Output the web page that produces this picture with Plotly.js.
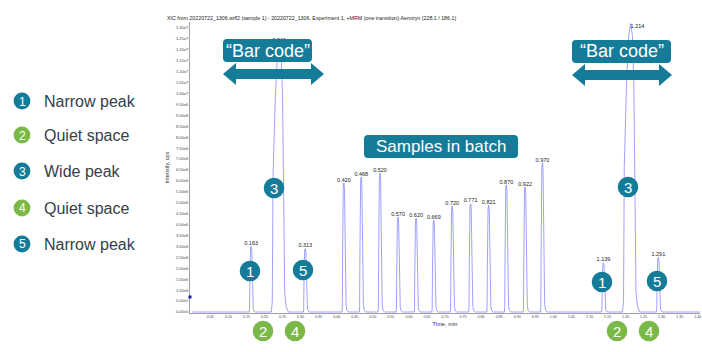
<!DOCTYPE html>
<html>
<head>
<meta charset="utf-8">
<script src="https://cdn.plot.ly/plotly-3.0.1.min.js"></script>
<style>html,body{margin:0;padding:0;background:#fff;}#chart{width:702px;height:352px;}</style>
</head>
<body>
<div id="chart"></div>
<script>
// ---- data ----
const peakTimes   = [0.163, 0.241, 0.313, 0.420, 0.468, 0.520, 0.570, 0.620, 0.669, 0.720, 0.771, 0.821, 0.870, 0.922, 0.970, 1.139, 1.214, 1.291];
const peakHeights = [3.0e6, 1.23e7, 2.9e6, 5.9e6, 6.18e6, 6.36e6, 4.35e6, 4.3e6, 4.2e6, 4.85e6, 4.95e6, 4.88e6, 5.81e6, 5.72e6, 6.82e6, 2.25e6, 1.32e7, 2.5e6];
const peakKinds   = ['narrow','wide','narrow','narrow','narrow','narrow','narrow','narrow','narrow','narrow','narrow','narrow','narrow','narrow','narrow','narrow','wide','narrow'];
const timeStart = 0.0, timeEnd = 1.41;

const yTickVals = [0,5e5,1e6,1.5e6,2e6,2.5e6,3e6,3.5e6,4e6,4.5e6,5e6,5.5e6,6e6,6.5e6,7e6,7.5e6,8e6,8.5e6,9e6,9.5e6,1e7,1.05e7,1.1e7,1.15e7,1.2e7,1.25e7,1.3e7];
const xTickVals = [0.05,0.10,0.15,0.20,0.25,0.30,0.35,0.40,0.45,0.50,0.55,0.60,0.65,0.70,0.75,0.80,0.85,0.90,0.95,1.00,1.05,1.10,1.15,1.20,1.25,1.30,1.35,1.40];

const legendNums  = ['1','2','3','4','5'];
const legendTexts = ['Narrow peak','Quiet space','Wide peak','Quiet space','Narrow peak'];

// ---- peak shape profiles (style: offset in min, fraction of apex) ----
const profiles = {
  narrow: {dt:[-0.0055,-0.0045,-0.0038,-0.003,-0.0018,0,0.0016,0.0028,0.0036,0.0045,0.006,0.0085,0.0125],
           rel:[0,0.04,0.4,0.8,0.97,1,0.95,0.7,0.35,0.14,0.05,0.012,0]},
  wide:   {dt:[-0.022,-0.0195,-0.0185,-0.0175,-0.011,-0.005,0,0.005,0.009,0.0115,0.013,0.015,0.019,0.025],
           rel:[0,0.04,0.25,0.5,0.8,0.96,1,0.96,0.8,0.5,0.25,0.07,0.02,0]}
};

const xs = [timeStart], ys = [0];
peakTimes.forEach((t,i)=>{
  const p = profiles[peakKinds[i]];
  p.dt.forEach((d,j)=>{ xs.push(t+d); ys.push(peakHeights[i]*p.rel[j]); });
});
xs.push(timeEnd); ys.push(0);

const fmtY = v => v.toExponential(2).replace('+','');
const FONT = 'Liberation Sans, Arial, sans-serif';
const TEAL = '#147c99', GREEN = '#7ab947';

// ---- layout geometry (pixels) ----
const L = 190, R = 2, T = 22, B = 39, W = 702, H = 352;
const PW = W - L - R, PH = H - T - B;
const px = x => (x - L) / PW;
const py = y => (H - B - y) / PH;

const shapes = [], annotations = [];
function circle(cx, cy, r, color, label, fs){
  shapes.push({type:'circle', xref:'paper', yref:'paper', x0:px(cx-r), x1:px(cx+r), y0:py(cy+r), y1:py(cy-r),
               fillcolor:color, line:{width:0}, layer:'above'});
  annotations.push({xref:'paper', yref:'paper', x:px(cx), y:py(cy+0.5), text:label, showarrow:false,
               xanchor:'center', yanchor:'middle', font:{family:FONT, size:fs, color:'#fff'}});
}
function rrect(x0,y0,x1,y1,r,color){
  const P = (x,y)=>px(x)+','+py(y);
  const path = 'M'+P(x0+r,y0)+' L'+P(x1-r,y0)+' Q'+P(x1,y0)+' '+P(x1,y0+r)+' L'+P(x1,y1-r)+' Q'+P(x1,y1)+' '+P(x1-r,y1)+
               ' L'+P(x0+r,y1)+' Q'+P(x0,y1)+' '+P(x0,y1-r)+' L'+P(x0,y0+r)+' Q'+P(x0,y0)+' '+P(x0+r,y0)+' Z';
  shapes.push({type:'path', xref:'paper', yref:'paper', path:path, fillcolor:color, line:{width:0}, layer:'above'});
}
function dblArrow(x0,x1,cy,hl,bh,hh,color){
  const P = (x,y)=>px(x)+','+py(y);
  const path = 'M'+P(x0,cy)+' L'+P(x0+hl,cy-hh)+' L'+P(x0+hl,cy-bh)+' L'+P(x1-hl,cy-bh)+' L'+P(x1-hl,cy-hh)+' L'+P(x1,cy)+
               ' L'+P(x1-hl,cy+hh)+' L'+P(x1-hl,cy+bh)+' L'+P(x0+hl,cy+bh)+' L'+P(x0+hl,cy+hh)+' Z';
  shapes.push({type:'path', xref:'paper', yref:'paper', path:path, fillcolor:color, line:{width:0}, layer:'above'});
}
function boxText(cx, cy, text, fs){
  annotations.push({xref:'paper', yref:'paper', x:px(cx), y:py(cy), text:text, showarrow:false,
    xanchor:'center', yanchor:'middle', font:{family:FONT, size:fs, color:'#fff'}});
}

// bar code boxes and arrows
rrect(223,39,312,62,4,TEAL); boxText(267.5,50.5,'\u201CBar code\u201D',18);
dblArrow(223,324,74,13,5,11,TEAL);
rrect(572,40,671,63,4,TEAL); boxText(621.5,51.5,'\u201CBar code\u201D',18);
dblArrow(572,672,75,13,5,11,TEAL);
// samples box
rrect(364,135,518,158,4,TEAL); boxText(441,146.5,'Samples in batch',17);

// numbered circles on chart
circle(250,271,10.3,TEAL,'1',15);
circle(274,188,10.3,TEAL,'3',15);
circle(303,270,10.3,TEAL,'5',15);
circle(263,331,10.3,GREEN,'2',15);
circle(295,331,10.3,GREEN,'4',15);
circle(602,282,10.3,TEAL,'1',15);
circle(628,187,10.3,TEAL,'3',15);
circle(657,281,10.3,TEAL,'5',15);
circle(617,331,10.3,GREEN,'2',15);
circle(649,331,10.3,GREEN,'4',15);

// left legend
const legendY = [101,135,171,208,244];
legendNums.forEach((n,i)=>{
  const c = (n==='2'||n==='4') ? GREEN : TEAL;
  circle(22, legendY[i], 8.4, c, n, 12);
  annotations.push({xref:'paper', yref:'paper', x:px(42), y:py(legendY[i]+0.5), text:legendTexts[i], showarrow:false,
    xanchor:'left', yanchor:'middle', font:{family:FONT, size:16, color:'#34404a'}});
});

// chart title as a positioned annotation
annotations.push({xref:'paper', yref:'paper', x:px(165), y:py(18), xanchor:'left', yanchor:'middle', showarrow:false,
  text:'XIC from 20220722_1306.wiff2 (sample 1) - 20220722_1306, Experiment 1, +MRM (one transition):Aemtryn (228.1 / 186.1)',
  font:{family:FONT, size:5.3, color:'#222'}});

// small marker on y axis
shapes.push({type:'rect', xref:'paper', yref:'paper', x0:px(188.5), x1:px(191.5), y0:py(298.5), y1:py(295.5),
  fillcolor:'#1a1aa0', line:{width:0}, layer:'above'});

const traces = [
  {x:xs, y:ys, type:'scatter', mode:'lines', line:{color:'rgba(110,110,255,0.65)', width:1}, hoverinfo:'skip'},
  {x:peakTimes, y:peakHeights, type:'scatter', mode:'text', text:peakTimes.map(t=>t.toFixed(3)),
   textposition:peakTimes.map(t=> t===1.214 ? 'bottom right' : 'top center'),
   textfont:{family:FONT, size:5.5, color:'#222'}, cliponaxis:false, hoverinfo:'skip'}
];

const layout = {
  width:W, height:H, margin:{l:L, r:R, t:T, b:B, pad:0},
  paper_bgcolor:'#fff', plot_bgcolor:'#fff', showlegend:false,
  font:{family:FONT, color:'#333'},
  xaxis:{range:[-0.0064, -0.0064 + PW/361], showgrid:false, zeroline:false, showline:true, linecolor:'#a0a0a0', linewidth:1,
         tickvals:xTickVals, ticktext:xTickVals.map(v=>v.toFixed(2)), ticks:'', tickfont:{size:3.6, color:'#444'},
         title:{text:'Time, min', font:{size:5.7, color:'#333'}, standoff:3}, automargin:false},
  yaxis:{range:[-4.6e4, 1.3275e7], showgrid:false, zeroline:false, showline:true, linecolor:'#a0a0a0', linewidth:1,
         tickvals:yTickVals, ticktext:yTickVals.map(fmtY), ticks:'', tickfont:{size:4, color:'#444'},
         title:{text:'Intensity, cps', font:{size:5.5, color:'#333'}, standoff:6}, automargin:false},
  shapes:shapes, annotations:annotations
};

Plotly.newPlot('chart', traces, layout, {displayModeBar:false, staticPlot:true});
</script>
</body>
</html>
